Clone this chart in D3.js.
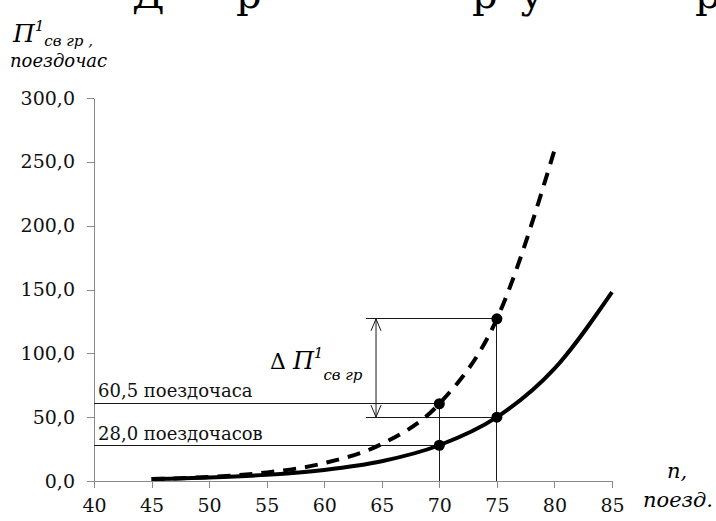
<!DOCTYPE html>
<meta charset="utf-8">
<style>
body { margin: 0; background: #fff; }
.axis path, .axis line { stroke: #8a8a8a; stroke-width: 1; shape-rendering: crispEdges; }
.axis text { font-size: 19px; fill: #111; }
.guide { stroke: #1a1a1a; stroke-width: 1; fill: none; shape-rendering: crispEdges; }
.curve { fill: none; stroke: #000; stroke-width: 4px; }
.curve.dash { stroke-dasharray: 13, 9; }
.note { font-size: 18px; fill: #111; }
.it { font-style: italic; }
</style>
<body>
<script src="https://d3js.org/d3.v7.min.js"></script>
<script>

// data
var xTicks = [40, 45, 50, 55, 60, 65, 70, 75, 80, 85];
var yTicks = [0, 50, 100, 150, 200, 250, 300];

var solidN = [45, 50, 55, 60, 65, 70, 75, 80, 85];
var solidValues = [1.5, 2.7, 4.8, 8.7, 15.5, 28, 50, 88, 148];

var dashedN = [45, 50, 55, 60, 65, 70, 75, 80];
var dashedValues = [1.5, 3.2, 6.7, 14, 29, 60.5, 127, 259];

var topLetters = ["Д", "р", "р", "у", "р"];
var topLetterX = [132, 236, 472, 520, 695];

// sizes
var W = 716, H = 521;
var FONT = "'DejaVu Serif'";

var x = d3.scaleLinear().domain([40, 85]).range([94, 612]);
var y = d3.scaleLinear().domain([0, 300]).range([481, 98]);

var ru = d3.formatLocale({decimal: ",", thousands: " ", grouping: [3], currency: ["", ""]});
var fmt = ru.format(".1f");

var svg = d3.select("body").append("svg")
    .attr("width", W)
    .attr("height", H)
    .style("font-family", FONT);

// the cut line of page text at the very top
svg.selectAll("text.top")
    .data(topLetters)
    .enter().append("text")
    .attr("class", "top")
    .attr("x", function(d, i) { return topLetterX[i]; })
    .attr("y", 8)
    .style("font-size", "40px")
    .text(function(d) { return d; });

// axes
var yAxis = svg.append("g")
    .attr("class", "axis")
    .attr("transform", "translate(" + x(40) + ",0)")
    .call(d3.axisLeft(y).tickValues(yTicks).tickFormat(fmt)
        .tickSize(7).tickSizeOuter(0).tickPadding(12));

var xAxis = svg.append("g")
    .attr("class", "axis")
    .attr("transform", "translate(0," + y(0) + ")")
    .call(d3.axisBottom(x).tickValues(xTicks).tickFormat(d3.format("d"))
        .tickSize(7).tickSizeOuter(0).tickPadding(11));

// d3 puts sans-serif on the axis groups, override it inline
yAxis.style("font-family", FONT);
xAxis.style("font-family", FONT);

// guide lines
var g = svg.append("g");
function seg(x1, y1, x2, y2) {
  g.append("line").attr("class", "guide")
    .attr("x1", x(x1)).attr("y1", y(y1))
    .attr("x2", x(x2)).attr("y2", y(y2));
}
var s70 = solidValues[solidN.indexOf(70)], s75 = solidValues[solidN.indexOf(75)];
var d70 = dashedValues[dashedN.indexOf(70)], d75 = dashedValues[dashedN.indexOf(75)];

seg(40, d70, 70, d70);
seg(40, s70, 70, s70);
seg(70, d70, 70, 0);
seg(75, d75, 75, 0);
seg(63.6, d75, 75, d75);
seg(63.6, s75, 75, s75);

// double arrow between the two levels at 75
var ax = x(64.5);
g.append("line").attr("class", "guide")
  .attr("x1", ax).attr("y1", y(d75)).attr("x2", ax).attr("y2", y(s75))
  .style("shape-rendering", "auto");
g.append("path").attr("class", "guide").style("shape-rendering", "auto")
  .attr("d", "M" + (ax - 5) + "," + (y(d75) + 12) + "L" + ax + "," + y(d75) + "L" + (ax + 5) + "," + (y(d75) + 12));
g.append("path").attr("class", "guide").style("shape-rendering", "auto")
  .attr("d", "M" + (ax - 5) + "," + (y(s75) - 12) + "L" + ax + "," + y(s75) + "L" + (ax + 5) + "," + (y(s75) - 12));

// curves
var line = d3.line()
    .curve(d3.curveMonotoneX)
    .x(function(d) { return x(d[0]); })
    .y(function(d) { return y(d[1]); });

svg.append("path")
    .datum(solidN.map(function(n, i) { return [n, solidValues[i]]; }))
    .attr("class", "curve")
    .attr("d", line);

svg.append("path")
    .datum(dashedN.map(function(n, i) { return [n, dashedValues[i]]; }))
    .attr("class", "curve dash")
    .attr("d", line);

// marked points
var pts = [[70, s70], [70, d70], [75, s75], [75, d75]];
svg.selectAll("circle.pt")
    .data(pts)
    .enter().append("circle")
    .attr("class", "pt")
    .attr("cx", function(d) { return x(d[0]); })
    .attr("cy", function(d) { return y(d[1]); })
    .attr("r", 5.5)
    .attr("fill", "#000");

// value notes
svg.append("text").attr("class", "note")
    .attr("x", 98).attr("y", y(d70) - 7)
    .text(fmt(d70) + " поездочаса");
svg.append("text").attr("class", "note")
    .attr("x", 98).attr("y", y(s70) - 5)
    .text(fmt(s70) + " поездочасов");

// delta label
var dl = svg.append("text").attr("x", 270).attr("y", 369);
dl.append("tspan").style("font-size", "22px").text("Δ ");
dl.append("tspan").attr("class", "it").style("font-size", "24px").text("П");
dl.append("tspan").attr("class", "it").style("font-size", "15px").attr("dy", -11).text("1");
dl.append("tspan").attr("class", "it").style("font-size", "15px").attr("dy", 22).text("св гр");

// y axis title
var yt = svg.append("text").attr("x", 13).attr("y", 42);
yt.append("tspan").attr("class", "it").style("font-size", "25px").text("П");
yt.append("tspan").attr("class", "it").style("font-size", "15px").attr("dy", -11).text("1");
yt.append("tspan").attr("class", "it").style("font-size", "15px").attr("dy", 15).text("св гр ,");
svg.append("text").attr("class", "it")
    .attr("x", 10).attr("y", 67)
    .style("font-size", "18px")
    .text("поездочас");

// x axis title
svg.append("text").attr("class", "it")
    .attr("x", 677).attr("y", 478)
    .attr("text-anchor", "middle")
    .style("font-size", "21px")
    .text("n,");
svg.append("text").attr("class", "it")
    .attr("x", 678).attr("y", 507)
    .attr("text-anchor", "middle")
    .style("font-size", "21px")
    .text("поезд.");

</script>
</body>
